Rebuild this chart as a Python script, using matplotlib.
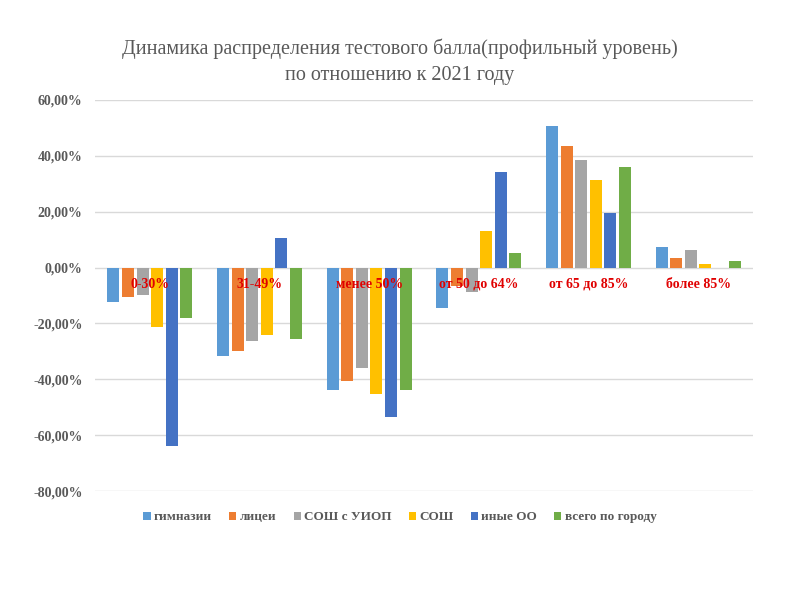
import matplotlib
matplotlib.use("Agg")
import matplotlib.pyplot as plt
import numpy as np
from matplotlib.ticker import FuncFormatter

categories = ["0-30%", "31-49%", "менее 50%", "от 50 до 64%", "от 65 до 85%", "более 85%"]
series_names = ["гимназии", "лицеи", "СОШ с УИОП", "СОШ", "иные ОО", "всего по городу"]
gimnazii = [-12.3, -31.6, -43.7, -14.6, 50.6, 7.4]
licei = [-10.6, -29.8, -40.5, -6.5, 43.5, 3.5]
sosh_uiop = [-9.7, -26.2, -35.8, -8.75, 38.3, 6.1]
sosh = [-21.3, -24.0, -45.1, 13.1, 31.25, 1.1]
inye = [-63.8, 10.4, -53.3, 34.0, 19.6, 0.0]
vsego = [-18.0, -25.7, -43.7, 5.1, 36.0, 2.4]
series = [gimnazii, licei, sosh_uiop, sosh, inye, vsego]
colors = ["#5B9BD5", "#ED7D31", "#A5A5A5", "#FFC000", "#4472C4", "#70AD47"]
yticks = [-80, -60, -40, -20, 0, 20, 40, 60]

serif = ["Liberation Serif", "DejaVu Serif"]
gray = "#595959"

fig = plt.figure(figsize=(8, 6), dpi=100)
ax = fig.add_axes([0.11875, 0.181, 0.8225, 0.653])

x = np.arange(len(categories))
step = 0.133
width = 0.11
for i, (vals, name, c) in enumerate(zip(series, series_names, colors)):
    ax.bar(x + (i - 2.5) * step, vals, width, color=c, label=name, zorder=3)

ax.set_xlim(-0.5, len(categories) - 0.5)
ax.set_ylim(-80, 60)
ax.set_yticks(yticks)
ax.yaxis.set_major_formatter(FuncFormatter(lambda v, p: f"{v:.2f}%".replace(".", ",")))
for lab in ax.get_yticklabels():
    lab.set_fontfamily(serif)
    lab.set_fontweight("bold")
    lab.set_color(gray)
    lab.set_fontsize(10)
ax.tick_params(axis="y", length=0, pad=9)
ax.set_xticks([])
ax.grid(axis="y", color="#D9D9D9", linewidth=1, zorder=0)
for s in ax.spines.values():
    s.set_visible(False)

for xi, cat in zip(x, categories):
    ax.annotate(cat, xy=(xi, 0), xytext=(0, -12), textcoords="offset points",
                ha="center", va="center", color="#E00000", fontweight="bold",
                fontsize=10, family=serif, zorder=5)

fig.text(0.5, 0.897, "Динамика распределения тестового балла(профильный уровень)\nпо отношению к 2021 году",
         ha="center", va="center", fontsize=14.5, color=gray, family=serif, linespacing=1.45)

leg = fig.legend(loc="center", bbox_to_anchor=(0.5, 0.138), ncol=6, frameon=False,
                 prop={"family": serif, "weight": "bold", "size": 9.5},
                 handlelength=0.55, handleheight=0.55, handletextpad=0.25, columnspacing=1.3)
for t in leg.get_texts():
    t.set_color(gray)

fig.savefig("out.png", dpi=100, facecolor="white")
